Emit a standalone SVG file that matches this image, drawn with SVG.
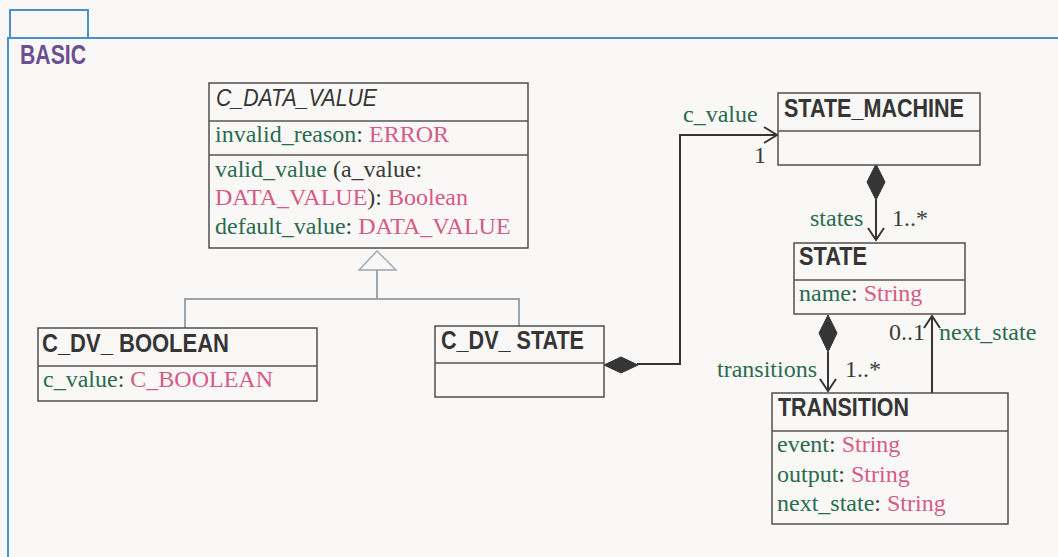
<svg xmlns="http://www.w3.org/2000/svg" width="1058" height="557" viewBox="0 0 1058 557">
<defs>
<style>
.bg{fill:#f9f8f6}
.frame{fill:none;stroke:#4a90cc;stroke-width:2}
.box{fill:#f9f8f6;stroke:#444;stroke-width:1.4}
.div{stroke:#555;stroke-width:1.4}
.title{font-family:"Liberation Sans",Arial,sans-serif;font-weight:bold;font-size:25px;fill:#353535}
.ital{font-family:"Liberation Sans",Arial,sans-serif;font-style:italic;font-size:24px;fill:#353535}
.attr{font-family:"Liberation Serif","Times New Roman",serif;font-size:24px;fill:#3a3a3a}
.lbl{font-family:"Liberation Serif","Times New Roman",serif;font-size:24px}
.g{fill:#2a6b4f}
.p{fill:#d65a87}
.d{fill:#3a3a3a}
.gen{fill:none;stroke:#9aa5ad;stroke-width:2}
.conn{fill:none;stroke:#353535;stroke-width:2}
.dia{fill:#353535;stroke:#353535;stroke-width:1}
</style>
</defs>
<rect class="bg" x="0" y="0" width="1058" height="557"/>
<rect class="frame" x="10" y="10" width="78" height="28" stroke-width="1.6"/>
<path class="frame" d="M8,560 V38 H1060"/>
<text x="20" y="64" font-family="'Liberation Sans',Arial,sans-serif" font-weight="bold" font-size="27" fill="#6b4f8f" textLength="66" lengthAdjust="spacingAndGlyphs">BASIC</text>

<g id="connectors">
<path class="gen" d="M377,270 V299 M185,328 V299 H519 V326"/>
<polygon points="377,251 359,270 396,270" fill="#f9f8f6" stroke="#9aa5ad" stroke-width="1.4"/>
<path class="conn" d="M637,364 H680 V135 H777"/>
<path class="conn" d="M764,127 L777,135 L764,143"/>
<polygon class="dia" points="604,365 621,357 638,365 621,373"/>
<path class="conn" d="M876,200 V240"/>
<path class="conn" d="M868,228 L876,240 L884,228"/>
<polygon class="dia" points="876,164 885,182 876,200 867,182"/>
<path class="conn" d="M828,352 V391"/>
<path class="conn" d="M820,379 L828,391 L836,379"/>
<polygon class="dia" points="828,315 837,333 828,352 819,333"/>
<path class="conn" d="M932,393 V316"/>
<path class="conn" d="M924,328 L932,316 L940,328"/>
<text class="lbl g" x="683" y="122">c_value</text>
<text class="lbl d" x="754" y="163">1</text>
<text class="lbl g" x="810" y="226">states</text>
<text class="lbl d" x="892" y="226">1..*</text>
<text class="lbl g" x="717" y="377">transitions</text>
<text class="lbl d" x="845" y="377">1..*</text>
<text class="lbl d" x="889" y="340">0..1</text>
<text class="lbl g" x="939" y="340">next_state</text>
</g>

<g id="c_data_value">
<rect class="box" x="209" y="83" width="319" height="165"/>
<line class="div" x1="209" y1="121" x2="528" y2="121"/>
<line class="div" x1="209" y1="155" x2="528" y2="155" stroke="#888" stroke-width="2"/>
<text class="ital" x="216" y="106" textLength="161" lengthAdjust="spacingAndGlyphs">C_DATA_VALUE</text>
<text class="attr" x="215" y="142"><tspan class="g">invalid_reason</tspan>: <tspan class="p">ERROR</tspan></text>
<text class="attr" x="215" y="177"><tspan class="g">valid_value</tspan> (a_value:</text>
<text class="attr" x="215" y="205"><tspan class="p">DATA_VALUE</tspan>): <tspan class="p">Boolean</tspan></text>
<text class="attr" x="215" y="234"><tspan class="g">default_value</tspan>: <tspan class="p">DATA_VALUE</tspan></text>
</g>

<g id="c_dv_boolean">
<rect class="box" x="38" y="328" width="279" height="73"/>
<line class="div" x1="38" y1="366" x2="317" y2="366"/>
<text class="title" x="42" y="352" textLength="187" lengthAdjust="spacingAndGlyphs">C_DV_ BOOLEAN</text>
<text class="attr" x="43" y="387"><tspan class="g">c_value</tspan>: <tspan class="p">C_BOOLEAN</tspan></text>
</g>

<g id="c_dv_state">
<rect class="box" x="435" y="326" width="169" height="71"/>
<line class="div" x1="435" y1="363" x2="604" y2="363"/>
<text class="title" x="441" y="349" textLength="143" lengthAdjust="spacingAndGlyphs">C_DV_ STATE</text>
</g>

<g id="state_machine">
<rect class="box" x="778" y="93" width="202" height="72"/>
<line class="div" x1="778" y1="131" x2="980" y2="131"/>
<text class="title" x="784" y="117" textLength="180" lengthAdjust="spacingAndGlyphs">STATE_MACHINE</text>
</g>

<g id="state">
<rect class="box" x="794" y="243" width="171" height="71"/>
<line class="div" x1="794" y1="280" x2="965" y2="280"/>
<text class="title" x="799" y="265" textLength="68" lengthAdjust="spacingAndGlyphs">STATE</text>
<text class="attr" x="799" y="301"><tspan class="g">name</tspan>: <tspan class="p">String</tspan></text>
</g>

<g id="transition">
<rect class="box" x="772" y="393" width="236" height="131"/>
<line class="div" x1="772" y1="431" x2="1008" y2="431"/>
<text class="title" x="778" y="416" textLength="131" lengthAdjust="spacingAndGlyphs">TRANSITION</text>
<text class="attr" x="777" y="452"><tspan class="g">event</tspan>: <tspan class="p">String</tspan></text>
<text class="attr" x="777" y="482"><tspan class="g">output</tspan>: <tspan class="p">String</tspan></text>
<text class="attr" x="777" y="511"><tspan class="g">next_state</tspan>: <tspan class="p">String</tspan></text>
</g>
</svg>
